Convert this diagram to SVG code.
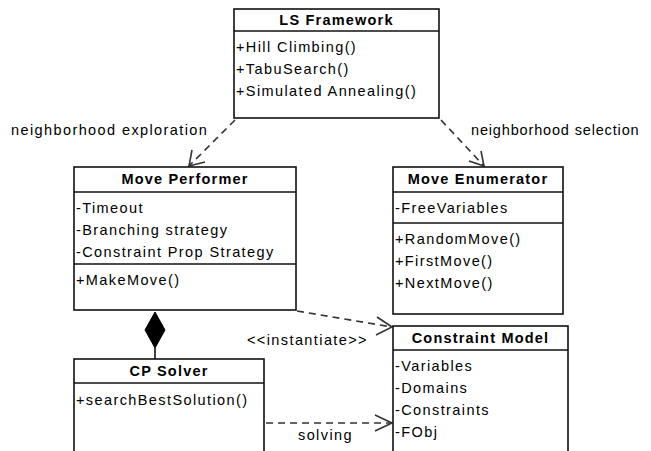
<svg xmlns="http://www.w3.org/2000/svg" width="651" height="451" viewBox="0 0 651 451">
<defs>
<style>
.box{fill:#fff;stroke:#111;stroke-width:1.6}
.ln{stroke:#111;stroke-width:1.6}
.t{font-family:"Liberation Sans",Arial,sans-serif;font-size:14.5px;letter-spacing:1.4px;fill:#000}
.h{font-family:"Liberation Sans",Arial,sans-serif;font-size:14.5px;font-weight:bold;letter-spacing:1.2px;fill:#000;text-anchor:middle}
.dash{fill:none;stroke:#333;stroke-width:1.6;stroke-dasharray:7,5}
.head{fill:none;stroke:#333;stroke-width:1.6}
</style>
</defs>
<rect width="651" height="451" fill="#fff"/>
<g id="connectors">
<line class="dash" x1="235" y1="120" x2="189" y2="166"/>
<polyline class="head" points="192,150 189,166 205,162"/>
<line class="dash" x1="441" y1="120" x2="484" y2="166"/>
<polyline class="head" points="469,161 484,166 481,151"/>
<line class="dash" x1="297" y1="311" x2="392" y2="327"/>
<polyline class="head" points="377,317 392,327 376,335"/>
<line class="dash" x1="266" y1="423" x2="392" y2="423"/>
<polyline class="head" points="375,415 392,423 375,431"/>
<line class="ln" x1="155" y1="348" x2="155" y2="359"/>
<polygon points="155,312 165,330 155,348 145,330" fill="#000" stroke="#000"/>
<text class="t" x="11" y="135">neighborhood exploration</text>
<text class="t" x="471" y="135" textLength="169">neighborhood selection</text>
<text class="t" x="247" y="345">&lt;&lt;instantiate&gt;&gt;</text>
<text class="t" x="298" y="440">solving</text>
</g>
<g id="ls-framework">
<rect class="box" x="234" y="9" width="205" height="109"/>
<line class="ln" x1="234" y1="31" x2="439" y2="31"/>
<text class="h" x="336.5" y="25">LS Framework</text>
<text class="t" x="236" y="52">+Hill Climbing()</text>
<text class="t" x="236" y="74">+TabuSearch()</text>
<text class="t" x="236" y="96">+Simulated Annealing()</text>
</g>
<g id="move-performer">
<rect class="box" x="74" y="167" width="222" height="143"/>
<line class="ln" x1="74" y1="192" x2="296" y2="192"/>
<line class="ln" x1="74" y1="264" x2="296" y2="264"/>
<text class="h" x="185" y="184">Move Performer</text>
<text class="t" x="76" y="213">-Timeout</text>
<text class="t" x="76" y="235">-Branching strategy</text>
<text class="t" x="76" y="257">-Constraint Prop Strategy</text>
<text class="t" x="76" y="285">+MakeMove()</text>
</g>
<g id="move-enumerator">
<rect class="box" x="393" y="167" width="170" height="147"/>
<line class="ln" x1="393" y1="192" x2="563" y2="192"/>
<line class="ln" x1="393" y1="223" x2="563" y2="223"/>
<text class="h" x="478" y="184">Move Enumerator</text>
<text class="t" x="395" y="213">-FreeVariables</text>
<text class="t" x="395" y="244">+RandomMove()</text>
<text class="t" x="395" y="266">+FirstMove()</text>
<text class="t" x="395" y="288">+NextMove()</text>
</g>
<g id="constraint-model">
<rect class="box" x="393" y="326" width="175" height="140"/>
<line class="ln" x1="393" y1="350" x2="568" y2="350"/>
<text class="h" x="480.5" y="343">Constraint Model</text>
<text class="t" x="395" y="371">-Variables</text>
<text class="t" x="395" y="393">-Domains</text>
<text class="t" x="395" y="415">-Constraints</text>
<text class="t" x="395" y="437">-FObj</text>
</g>
<g id="cp-solver">
<rect class="box" x="74" y="359" width="190" height="110"/>
<line class="ln" x1="74" y1="383" x2="264" y2="383"/>
<text class="h" x="169" y="376">CP Solver</text>
<text class="t" x="76" y="405">+searchBestSolution()</text>
</g>
</svg>
